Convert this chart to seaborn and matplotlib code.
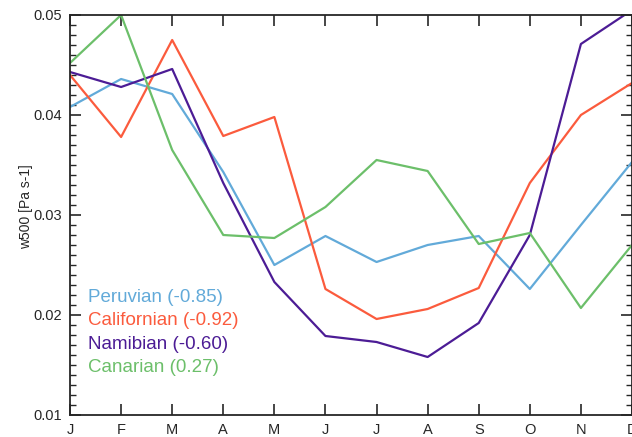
import numpy as np
import pandas as pd
import matplotlib
matplotlib.use("Agg")
import matplotlib.pyplot as plt
from matplotlib.ticker import MultipleLocator
import seaborn as sns

months = ['J', 'F', 'M', 'A', 'M', 'J', 'J', 'A', 'S', 'O', 'N', 'D']

peruvian = [0.0408, 0.0436, 0.0421, 0.0343, 0.0250, 0.0279, 0.0253, 0.0270, 0.0279, 0.0226, 0.0290, 0.0353]
californian = [0.0440, 0.0378, 0.0475, 0.0379, 0.0398, 0.0226, 0.0196, 0.0206, 0.0227, 0.0332, 0.0400, 0.0432]
namibian = [0.0443, 0.0428, 0.0446, 0.0332, 0.0233, 0.0179, 0.0173, 0.0158, 0.0192, 0.0280, 0.0471, 0.0505]
canarian = [0.0452, 0.0500, 0.0365, 0.0280, 0.0277, 0.0308, 0.0355, 0.0344, 0.0271, 0.0282, 0.0207, 0.0270]

regions = ['Peruvian (-0.85)', 'Californian (-0.92)', 'Namibian (-0.60)', 'Canarian (0.27)']
colors = ['#62aad9', '#fb5b3d', '#4c1c95', '#6cbf6a']

df = pd.DataFrame({
    'month': list(range(12)) * 4,
    'w500': peruvian + californian + namibian + canarian,
    'region': np.repeat(regions, 12),
})

sns.set_style("ticks")
plt.rcParams['font.family'] = ['Liberation Sans', 'DejaVu Sans']

fig = plt.figure(figsize=(6.32, 4.37), dpi=100)
ax = fig.add_axes([70 / 632, 22 / 437, 562 / 632, 400 / 437])

sns.lineplot(data=df, x='month', y='w500', hue='region', palette=colors,
             linewidth=1.6, legend=False, ax=ax, clip_on=True)

ax.set_xlim(0, 11)
ax.set_ylim(0.01, 0.05)
ax.set_xticks(range(12))
ax.set_xticklabels(months, fontsize=10.5)
ax.yaxis.set_major_locator(MultipleLocator(0.01))
ax.yaxis.set_minor_locator(MultipleLocator(0.001))
ax.set_yticks([0.01, 0.02, 0.03, 0.04, 0.05])
ax.set_yticklabels(['0.01', '0.02', '0.03', '0.04', '0.05'], fontsize=10.5)
ax.tick_params(which='major', direction='in', length=8, width=1.2,
               top=True, right=True, pad=6)
ax.tick_params(which='minor', direction='in', length=4, width=1,
               left=True, right=True)
for s in ax.spines.values():
    s.set_linewidth(1.3)
    s.set_visible(True)
ax.set_xlabel('')
ax.set_ylabel('w500 [Pa s-1]', fontsize=10)
ax.yaxis.set_label_coords(-0.065, 0.52)

# colored legend text
for i, (lab, c) in enumerate(zip(regions, colors)):
    ax.text(88 / 632, 1 - (302 + 23.3 * i) / 437, lab, color=c, fontsize=13.5,
            transform=fig.transFigure, va='baseline', ha='left')

fig.savefig('out.png', dpi=100)
